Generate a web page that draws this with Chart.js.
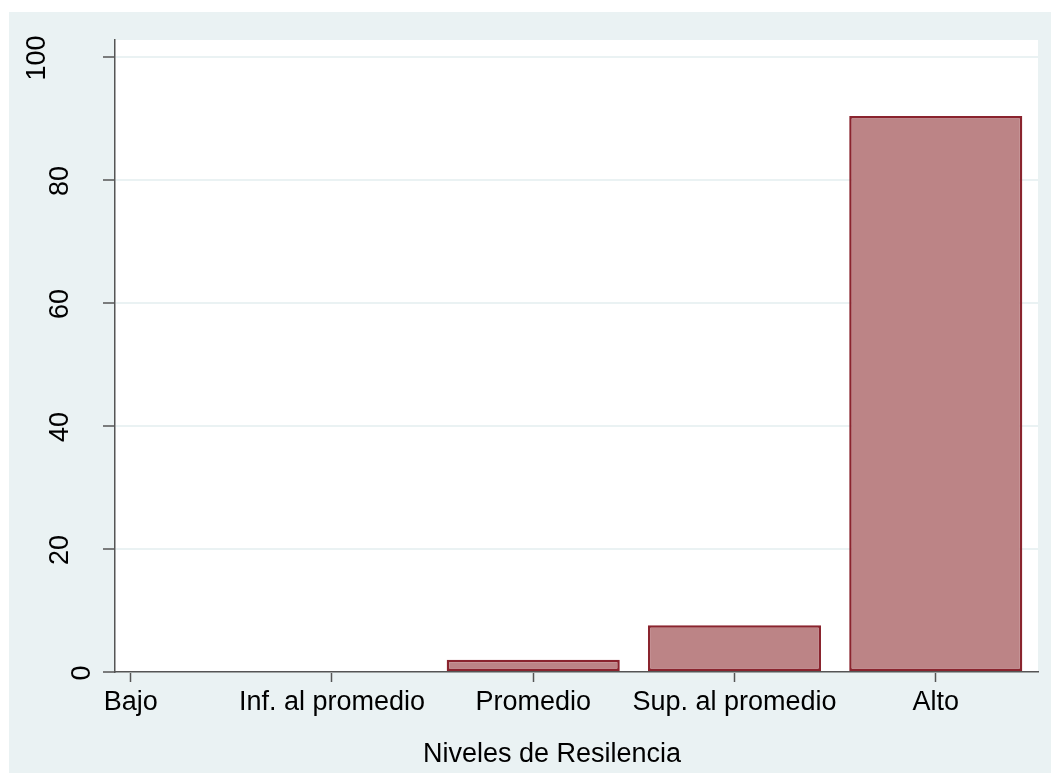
<!DOCTYPE html>
<html>
<head>
<meta charset="utf-8">
<title>Niveles de Resilencia</title>
<script src="https://cdn.jsdelivr.net/npm/chart.js@4/dist/chart.umd.min.js"></script>
<style>
  html, body { margin: 0; padding: 0; background: #fff; }
  #wrap { width: 1051px; height: 773px; }
</style>
</head>
<body>
<div id="wrap"><canvas id="resChart" width="1051" height="773"></canvas></div>
<script>
// values (percent per level)
const LEVELS = ["Bajo", "Inf. al promedio", "Promedio", "Sup. al promedio", "Alto"];
const PERCENT = [0, 0, 2.0, 7.6, 90.4];
const Y_TICKS = [0, 20, 40, 60, 80, 100];
const X_TITLE = "Niveles de Resilencia";

const FONT = "'Liberation Sans', Arial, sans-serif";
const BG = "#EAF2F3";
const AXIS = "#555555";

// Stata-like frame: outer light blue, white plot region
const stataFrame = {
  id: "stataFrame",
  beforeDraw(chart) {
    const { ctx, chartArea: a } = chart;
    ctx.save();
    ctx.fillStyle = "#ffffff";
    ctx.fillRect(0, 0, chart.width, chart.height);
    ctx.fillStyle = BG;
    ctx.fillRect(9, 12, chart.width - 9, chart.height - 12);
    ctx.fillStyle = "#ffffff";
    ctx.fillRect(a.left, a.top, a.right - a.left, a.bottom - a.top);
    ctx.restore();
  },
  // vertical y labels and the x title, placed the way Stata does
  afterDraw(chart) {
    const { ctx, chartArea: a } = chart;
    const y = chart.scales.y;
    ctx.save();
    ctx.fillStyle = "#000";
    ctx.font = "27px " + FONT;
    ctx.textAlign = "center";
    ctx.textBaseline = "middle";
    y.ticks.forEach((t) => {
      const label = String(t.value);
      const w = ctx.measureText(label).width;
      ctx.save();
      ctx.translate(a.left - 9.5 - 1.5 * w, y.getPixelForValue(t.value) + 1);
      ctx.rotate(-Math.PI / 2);
      ctx.fillText(label, 0, 0);
      ctx.restore();
    });
    ctx.textBaseline = "alphabetic";
    ctx.fillText(X_TITLE, a.left + 0.4735 * (a.right - a.left), 762);
    ctx.restore();
  },
};

new Chart(document.getElementById("resChart"), {
  type: "bar",
  data: {
    datasets: [{
      data: LEVELS.map((l, i) => ({ x: i + 1, y: PERCENT[i] })),
      backgroundColor: "rgb(188,132,134)",
      borderColor: "rgb(138,36,46)",
      borderWidth: 2.5,
      borderSkipped: false,
      categoryPercentage: 1,
      barPercentage: 0.86,
    }],
  },
  options: {
    responsive: false,
    animation: false,
    layout: { padding: { top: 40, right: 13, left: 0, bottom: 0 } },
    plugins: { legend: { display: false }, tooltip: { enabled: false } },
    scales: {
      x: {
        type: "linear",
        offset: false,
        min: 0.922,
        max: 5.508,
        afterBuildTicks: (s) => { s.ticks = LEVELS.map((l, i) => ({ value: i + 1 })); },
        afterFit: (s) => { s.height = 101; },
        ticks: {
          autoSkip: false,
          maxRotation: 0,
          padding: 4,
          color: "#000",
          font: { family: FONT, size: 27 },
          callback: (v) => LEVELS[v - 1],
        },
        grid: { offset: false, drawOnChartArea: false, tickLength: 10, tickColor: AXIS, tickWidth: 1.5 },
        border: { color: AXIS, width: 1.5 },
      },
      y: {
        min: 0,
        max: 102.76,
        afterBuildTicks: (s) => { s.ticks = Y_TICKS.map((v) => ({ value: v })); },
        afterFit: (s) => { s.width = 115; },
        ticks: { display: false },
        grid: { color: BG, lineWidth: 2, tickLength: 12, tickColor: AXIS, tickWidth: 1.5 },
        border: { color: AXIS, width: 1.5 },
      },
    },
  },
  plugins: [stataFrame],
});
</script>
</body>
</html>
